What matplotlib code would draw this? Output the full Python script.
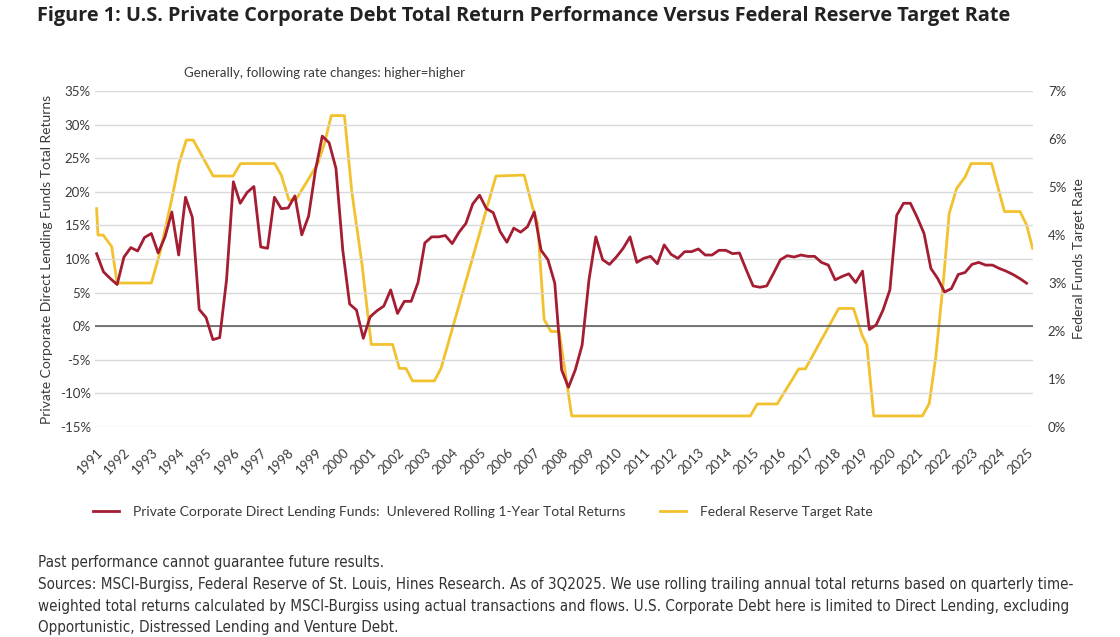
import numpy as np
import matplotlib.pyplot as plt
from matplotlib.ticker import FuncFormatter

plt.rcParams['font.family'] = ['Lato', 'DejaVu Sans']

# quarterly rolling 1-year total returns (%), starting 1991Q1
returns = [10.8, 8.1, 7.1, 6.2, 10.3, 11.7, 11.2, 13.2, 13.8, 10.9,
           13.3, 17.0, 10.6, 19.2, 16.2, 2.5, 1.3, -2.0, -1.7, 6.9,
           21.5, 18.3, 19.9, 20.8, 11.8, 11.6, 19.2, 17.5, 17.6, 19.4,
           13.6, 16.4, 23.2, 28.3, 27.3, 23.5, 11.3, 3.3, 2.4, -1.8,
           1.4, 2.3, 3.0, 5.4, 1.9, 3.7, 3.7, 6.5, 12.4, 13.3,
           13.3, 13.5, 12.3, 14.0, 15.3, 18.2, 19.5, 17.5, 16.9, 14.1,
           12.5, 14.6, 14.0, 14.8, 17.0, 11.3, 9.9, 6.4, -6.5, -9.1,
           -6.5, -2.8, 6.9, 13.3, 9.9, 9.2, 10.3, 11.6, 13.3, 9.5,
           10.1, 10.4, 9.3, 12.1, 10.7, 10.1, 11.1, 11.1, 11.5, 10.6,
           10.6, 11.3, 11.3, 10.8, 10.9, 8.4, 6.0, 5.8, 6.0, 7.9,
           9.9, 10.5, 10.3, 10.6, 10.4, 10.4, 9.5, 9.1, 6.9, 7.4,
           7.8, 6.5, 8.2, -0.5, 0.2, 2.4, 5.4, 16.5, 18.3, 18.3,
           16.2, 13.8, 8.6, 7.1, 5.1, 5.6, 7.7, 8.0, 9.2, 9.5,
           9.1, 9.1, 8.6, 8.2, 7.7, 7.1, 6.4]
ret_years = 1991 + np.arange(len(returns)) / 4

# federal reserve target rate (%), turning points
fed_years = [1991.0, 1991.05, 1991.24, 1991.55, 1991.75, 1993.0, 1993.31, 1993.74,
             1994.01, 1994.28, 1994.53, 1995.26, 1995.99, 1996.26, 1997.51,
             1997.75, 1998.03, 1998.30, 1999.09, 1999.33, 1999.58, 2000.06,
             2000.33, 2000.70, 2001.04, 2001.82, 2002.07, 2002.31, 2002.55,
             2003.35, 2003.59, 2005.60, 2006.63, 2006.93, 2007.12, 2007.36,
             2007.61, 2007.91, 2008.37, 2014.90, 2015.15, 2015.88, 2016.67,
             2016.91, 2018.13, 2018.67, 2018.98, 2019.16, 2019.41, 2021.19,
             2021.44, 2021.68, 2021.96, 2022.17, 2022.44, 2022.75, 2022.97,
             2023.72, 2024.19, 2024.76, 2025.0, 2025.22]
fed_rate = [4.55, 4.0, 4.0, 3.76, 3.0, 3.0, 3.62, 4.73,
            5.49, 5.98, 5.98, 5.23, 5.23, 5.49, 5.49,
            5.25, 4.73, 4.75, 5.49, 5.91, 6.49, 6.49,
            4.9, 3.4, 1.72, 1.72, 1.22, 1.22, 0.96,
            0.96, 1.22, 5.23, 5.25, 4.59, 4.24, 2.24,
            1.99, 1.99, 0.23, 0.23, 0.48, 0.48, 1.21,
            1.21, 2.47, 2.47, 1.92, 1.71, 0.23, 0.23,
            0.49, 1.46, 3.06, 4.45, 4.97, 5.21, 5.49,
            5.49, 4.49, 4.49, 4.21, 3.72]

year_labels = list(range(1991, 2026))

red = '#A51D33'
gold = '#F2C12E'
txt = '#3a3a3a'

fig = plt.figure(figsize=(11.2, 6.37), dpi=100)
ax = fig.add_axes([0.0848, 0.3297, 0.8372, 0.5273])
ax2 = ax.twinx()

ax.plot(ret_years, returns, color=red, lw=2.0, zorder=3,
        label='Private Corporate Direct Lending Funds:  Unlevered Rolling 1-Year Total Returns')
ax2.plot(fed_years, fed_rate, color=gold, lw=2.0, zorder=2,
         label='Federal Reserve Target Rate')

ax.set_ylim(-15, 35)
ax.set_yticks(np.arange(-15, 36, 5))
ax.yaxis.set_major_formatter(FuncFormatter(lambda v, p: f'{v:.0f}%'))
ax2.set_ylim(0, 7)
ax2.set_yticks(np.arange(0, 8, 1))
ax2.yaxis.set_major_formatter(FuncFormatter(lambda v, p: f'{v:.0f}%'))

ax.set_xlim(1990.94, 2025.22)
ax.set_xticks(year_labels)
ax.set_xticklabels([str(y) for y in year_labels], rotation=45, ha='right',
                   rotation_mode='anchor', fontsize=9.5, color=txt)

ax.grid(axis='y', color='#d9d9d9', lw=1)
ax.axhline(0, color='#555555', lw=1.1, zorder=2)
ax.set_axisbelow(True)
for a in (ax, ax2):
    for s in a.spines.values():
        s.set_visible(False)
    a.tick_params(length=0, labelsize=9.5, labelcolor=txt)
ax.tick_params(axis='y', pad=3)
ax.tick_params(axis='x', pad=14)
ax2.tick_params(axis='y', pad=11)
ax.set_zorder(ax2.get_zorder() + 1)
ax.patch.set_visible(False)

ax.set_ylabel('Private Corporate Direct Lending Funds Total Returns', fontsize=10,
              color=txt, labelpad=5)
ax2.set_ylabel('Federal Funds Target Rate', fontsize=10, color=txt, labelpad=5)

fig.text(0.033, 0.99, 'Figure 1: U.S. Private Corporate Debt Total Return Performance '
         'Versus Federal Reserve Target Rate', fontsize=14.3, fontweight='bold',
         color='#222222', va='top', family=['Open Sans', 'DejaVu Sans'])
fig.text(0.29, 0.885, 'Generally, following rate changes: higher=higher',
         fontsize=9.5, color=txt, ha='center', va='center')

h1, l1 = ax.get_legend_handles_labels()
h2, l2 = ax2.get_legend_handles_labels()
fig.legend(h1 + h2, l1 + l2, loc='center left', bbox_to_anchor=(0.0715, 0.196),
           ncol=2, frameon=False, fontsize=10, handlelength=1.9, handletextpad=1.0,
           columnspacing=2.5, labelcolor=txt)

notes = ['Past performance cannot guarantee future results.',
         'Sources: MSCI-Burgiss, Federal Reserve of St. Louis, Hines Research. As of 3Q2025. '
         'We use rolling trailing annual total returns based on quarterly time-',
         'weighted total returns calculated by MSCI-Burgiss using actual transactions and flows. '
         'U.S. Corporate Debt here is limited to Direct Lending, excluding',
         'Opportunistic, Distressed Lending and Venture Debt.']
for k, line in enumerate(notes):
    fig.text(0.034, 1 - (563 + k * 21.6) / 637, line, fontsize=10.9, color='#333333',
             va='center', family='DejaVu Sans', stretch='condensed')

fig.savefig('out.png', dpi=100)
